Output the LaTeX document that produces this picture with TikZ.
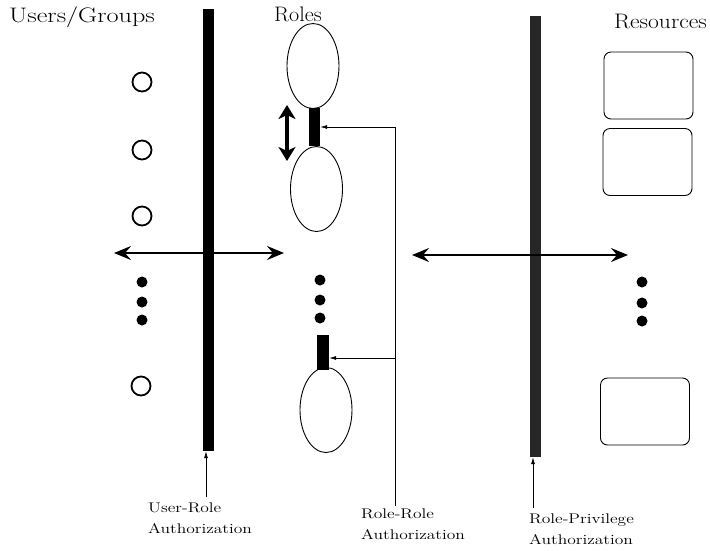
\documentclass[tikz,border=0pt]{standalone}
\usetikzlibrary{shapes.geometric,arrows.meta}
\newcommand\mystretch[1]{\scalebox{1.25}[1]{#1}}
\newcommand\mylabel[1]{\mystretch{\begin{tabular}[t]{@{}l@{}}#1\end{tabular}}}
\begin{document}
\begin{tikzpicture}[x=1pt,y=-1pt,
  bar/.style={fill=black,draw=none,inner sep=0,minimum width=11pt},
  user/.style={circle,draw,line width=1.8pt,inner sep=0,minimum size=19pt},
  dot/.style={circle,fill=black,inner sep=0,minimum size=11pt},
  role/.style={ellipse,draw,line width=0.9pt,inner sep=0,minimum width=52pt,minimum height=85pt},
  res/.style={draw,rounded corners=7pt,line width=0.9pt,inner sep=0,minimum width=89pt,minimum height=67pt},
  bigarrow/.style={line width=2pt,{Stealth[length=17pt,width=14pt,inset=6pt]}-{Stealth[length=17pt,width=14pt,inset=6pt]}},
  swaparrow/.style={line width=4pt,{Stealth[length=14pt,width=17pt,inset=4pt]}-{Stealth[length=14pt,width=17pt,inset=4pt]}},
  thinarrow/.style={line width=0.7pt,-{Latex[length=7pt,width=4pt]}},
  head/.style={font=\fontsize{21}{24}\selectfont,anchor=base west,inner sep=0},
  lab/.style={font=\fontsize{14}{21}\selectfont,anchor=base west,inner sep=0}]
\useasboundingbox (0,0) rectangle (710,550);

% headings
\node[head] (hu) at (9,22) {\mystretch{Users/Groups}};
\node[head] (hr) at (274,21) {\scalebox{1.05}[1]{Roles}};
\node[head] (hres) at (614,28) {\scalebox{1.12}[1]{Resources}};

% authorization bars
\node[bar,minimum height=442pt] (bar1) at (208.5,230) {};
\node[bar,fill=black!85,minimum height=441pt] (bar2) at (535.5,236.5) {};

% users / groups
\node[user] (u1) at (142,82) {};
\node[user] (u2) at (142,150) {};
\node[user] (u3) at (142,216) {};
\node[user] (u4) at (141,386) {};
\node[dot] (ld1) at (142,282) {};
\node[dot] (ld2) at (142,302) {};
\node[dot] (ld3) at (142,320) {};

% roles
\node[role] (r1) at (313,66) {};
\node[role] (r2) at (316.5,189) {};
\node[role] (r3) at (326,410) {};
\node[bar,minimum height=38pt] (rb1) at (314.5,127) {};
\node[bar,minimum width=12pt,minimum height=35pt] (rb2) at (323,352.5) {};
\node[dot] (md1) at (320,280) {};
\node[dot] (md2) at (320,300) {};
\node[dot] (md3) at (320,318) {};

% resources
\node[res] (s1) at (648.5,85.5) {};
\node[res] (s2) at (647.5,162) {};
\node[res] (s3) at (645,411.5) {};
\node[dot] (rd1) at (642,282) {};
\node[dot] (rd2) at (642,303) {};
\node[dot] (rd3) at (642,321) {};

% double arrows
\coordinate (a1l) at (114,253);
\coordinate (a1r) at (284,253);
\coordinate (a2l) at (412,255);
\coordinate (a2r) at (628,255);
\draw[bigarrow] (a1l) -- (a1r);
\draw[bigarrow] (a2l) -- (a2r);
\coordinate (vt) at (287,105);
\coordinate (vb) at (287,161);
\draw[swaparrow] (vt) -- (vb);

% labels
\node[lab] (lur) at (148,512) {\mylabel{User-Role\\Authorization}};
\node[lab] (lrr) at (361,518) {\mylabel{Role-Role\\Authorization}};
\node[lab] (lrp) at (529,523) {\mylabel{Role-Privilege\\Authorization}};

% pointer lines
\coordinate (urp) at (206,497);
\draw[thinarrow] (urp) -- (urp |- bar1.south);
\coordinate (rrp) at (395,506);
\draw[thinarrow] (rrp) |- (rb1.east);
\coordinate (rrj) at (395,358);
\draw[thinarrow] (rrj) -- (rrj -| rb2.east);
\coordinate (rpp) at (533,508);
\draw[thinarrow] (rpp) -- (rpp |- bar2.south);
\end{tikzpicture}
\end{document}
